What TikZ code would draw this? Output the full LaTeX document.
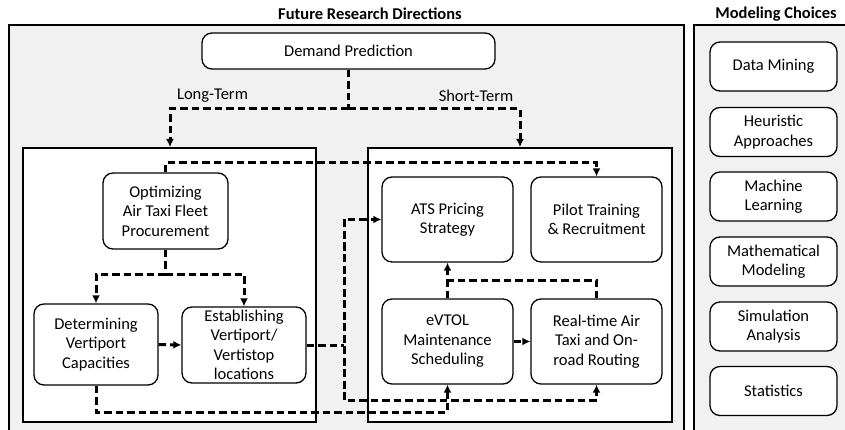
\documentclass[tikz,border=0pt]{standalone}
\usepackage{fontspec}
\setmainfont{Carlito}
\usetikzlibrary{arrows.meta}
\definecolor{panelgray}{HTML}{F1F1F1}
\tikzset{
  panel/.style={draw=black, line width=2pt, fill=panelgray},
  inner/.style={draw=black, line width=2pt, fill=white, inner sep=0pt},
  box/.style={draw=black, line width=1.3pt, fill=white, rounded corners=10pt, align=center, inner sep=0pt, font=\fontsize{16.5}{19.5}\selectfont},
  lbl/.style={font=\fontsize{16.5}{19.5}\selectfont, inner sep=0pt},
  ttl/.style={font=\bfseries\fontsize{16.5}{19.5}\selectfont, inner sep=0pt},
  dline/.style={line width=3pt, dash pattern=on 7.5pt off 4pt},
  arr/.style={-{Latex[length=8pt,width=8pt]}},
}
\begin{document}
\begin{tikzpicture}[x=1pt,y=-1pt]
\useasboundingbox (0,0) rectangle (845,430);
% panels
\draw[panel] (9,25) rectangle (684,440);
\draw[panel] (694,25) rectangle (850,440);
\node[ttl] (t1) at (370,14) {Future Research Directions};
\node[ttl] (t2) at (776,14) {Modeling Choices};
\node[inner, minimum width=293pt, minimum height=274pt] (lp) at (169.5,285) {};
\node[inner, minimum width=304pt, minimum height=274pt] (rp) at (520,285) {};
% boxes
\node[box, minimum width=293pt, minimum height=36pt] (dp) at (348.5,51) {Demand Prediction};
\node[box, minimum width=125pt, minimum height=76pt] (opt) at (165.5,211) {Optimizing\\Air Taxi Fleet\\Procurement};
\node[box, minimum width=124pt, minimum height=81pt] (det) at (96,344.5) {Determining\\Vertiport\\Capacities};
\node[box, minimum width=124pt, minimum height=76pt] (est) at (244,345) {Establishing\\Vertiport/\\Vertistop\\locations};
\node[box, minimum width=131pt, minimum height=85pt] (ats) at (447.5,219.5) {ATS Pricing\\Strategy};
\node[box, minimum width=131pt, minimum height=85pt] (pil) at (596.5,219.5) {Pilot Training\\\& Recruitment};
\node[box, minimum width=131pt, minimum height=85pt] (evt) at (447.5,341.5) {eVTOL\\Maintenance\\Scheduling};
\node[box, minimum width=131pt, minimum height=85pt] (rt) at (596.5,341.5) {Real-time Air\\Taxi and On-\\road Routing};
% modeling choices
\node[box, minimum width=127pt, minimum height=49pt] (m1) at (773.5,66.5) {Data Mining};
\node[box, minimum width=127pt, minimum height=49pt] (m2) at (773.5,132) {Heuristic\\Approaches};
\node[box, minimum width=127pt, minimum height=49pt] (m3) at (773.5,196.5) {Machine\\Learning};
\node[box, minimum width=127pt, minimum height=49pt] (m4) at (773.5,261.5) {Mathematical\\Modeling};
\node[box, minimum width=127pt, minimum height=49pt] (m5) at (773.5,326.5) {Simulation\\Analysis};
\node[box, minimum width=127pt, minimum height=49pt] (m6) at (773.5,391) {Statistics};
% labels
\node[lbl] (lt) at (212.5,96) {Long-Term};
\node[lbl] (st) at (476,96) {Short-Term};
% coordinates
\coordinate (j0) at (348.5,109);
\coordinate (lpt) at (170,147);
\coordinate (rpt) at (520,147);
\coordinate (jp) at (596.5,163);
\coordinate (j3) at (165.5,274);
\coordinate (v0) at (344,345);
\coordinate (v1) at (344,219.5);
\coordinate (v2) at (344,400);
\coordinate (w1) at (96,412);
\coordinate (j5) at (447.5,280);
% connectors
\draw[dline] (dp.south) -- (j0);
\draw[dline,arr] (j0) -| (lpt);
\draw[dline,arr] (j0) -| (rpt);
\draw[dline,arr] (opt.north) |- (jp) -- (pil.north);
\draw[dline] (opt.south) -- (j3);
\draw[dline,arr] (j3) -| (det.north);
\draw[dline,arr] (j3) -| (est.north);
\draw[dline,arr] (det.east) -- (est.west);
\draw[dline] (est.east) -- (v0);
\draw[dline,arr] (v2) -- (v1) -- (ats.west);
\draw[dline,arr] (v1) -- (v2) -| (rt.south);
\draw[dline,arr] (det.south) -- (w1) -| (evt.south);
\draw[dline,arr] (evt.north) -- (ats.south);
\draw[dline] (rt.north) |- (j5);
\draw[dline,arr] (evt.east) -- (rt.west);
\end{tikzpicture}
\end{document}
